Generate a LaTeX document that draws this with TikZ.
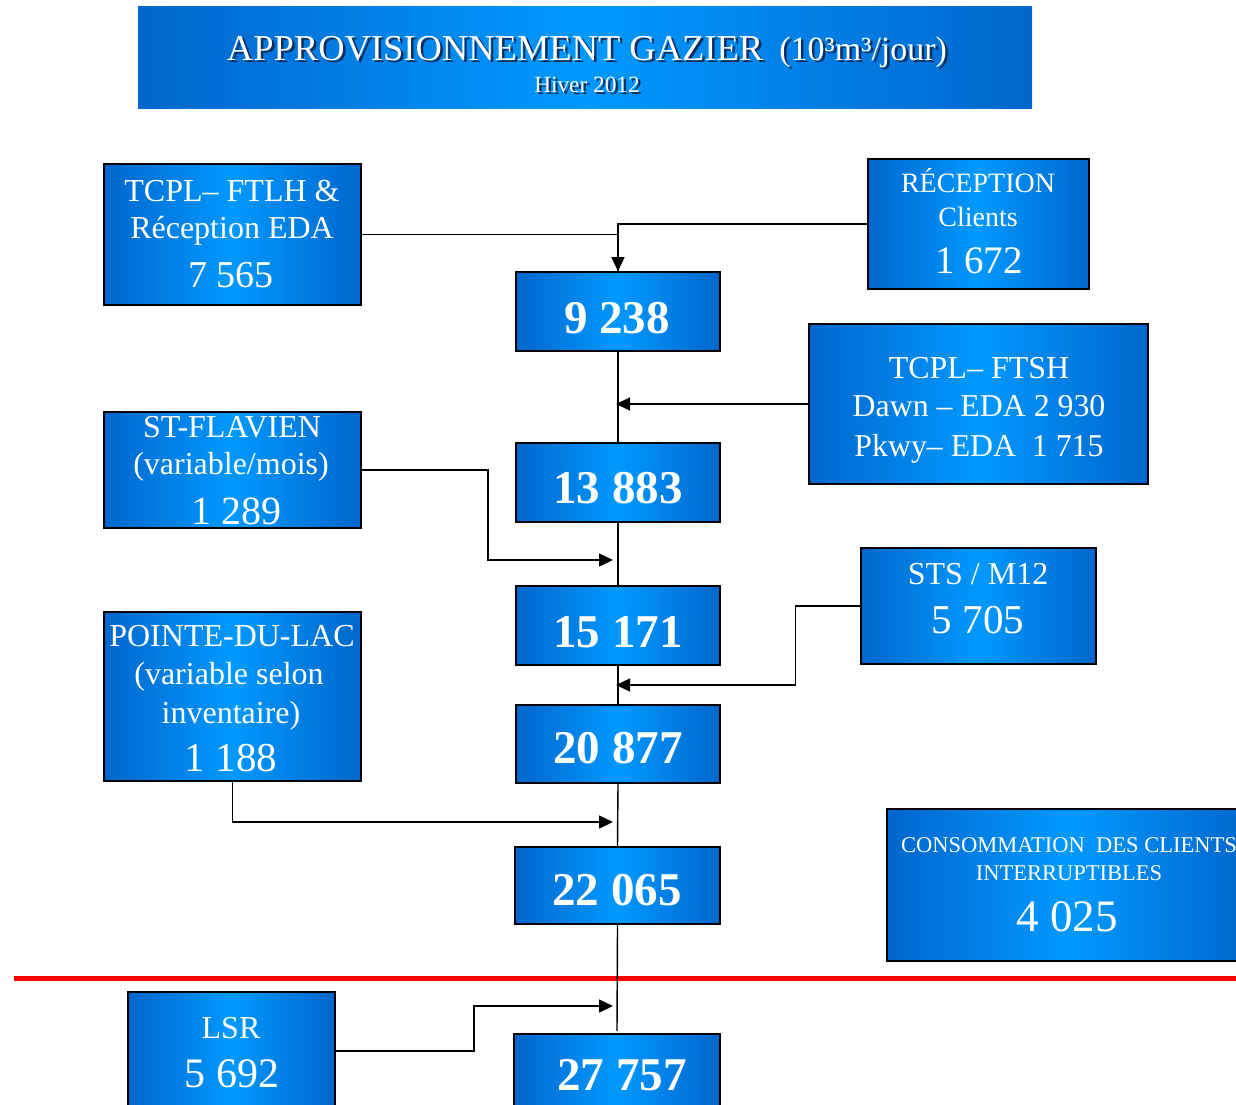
\documentclass[tikz,border=0pt]{standalone}
\usepackage{fontspec}
\setmainfont{Liberation Serif}
\usetikzlibrary{arrows.meta}
\definecolor{bdark}{RGB}{0,102,204}
\definecolor{blight}{RGB}{0,153,255}
\definecolor{redline}{RGB}{255,0,0}
\definecolor{tshadow}{RGB}{15,45,95}
\newcommand\fsz[1]{\fontsize{#1}{#1}\selectfont}
\newcommand\shadtxt[1]{\rlap{\hspace{2.5pt}\raisebox{-2.5pt}{\color{tshadow}#1}}#1}
\begin{document}
\begin{tikzpicture}[x=1pt,y=-1pt,
  gradfill/.style={left color=bdark, right color=bdark, middle color=blight},
  box/.style={gradfill, draw=black, line width=1.6pt, inner sep=0pt},
  tx/.style={anchor=base, inner sep=0pt, text=white},
  tot/.style={tx, font=\fsz{47}\bfseries},
  conn/.style={draw=black, line width=1.4pt},
  arr/.style={conn, -{Triangle[length=14pt,width=13pt]}}]
\useasboundingbox (0,0) rectangle (1236,1104);
\clip (0,0) rectangle (1236,1104);

% title
\node[gradfill, draw=none, minimum width=894pt, minimum height=102pt, inner sep=0pt] (title) at (585,57) {};
\node[tx] (titletext) at (587,60) {\shadtxt{{\fsz{36.5}APPROVISIONNEMENT GAZIER}\hspace{16pt}{\fsz{34}(10³m³/jour)}}};
\node[tx] (subtext) at (587,92) {\fsz{23.3}\shadtxt{Hiver 2012}};

% red separator
\draw[redline, line width=5pt] (14,978) -- (1236,978);

% boxes
\node[box, minimum width=257pt, minimum height=141pt] (ftlh) at (232.5,234.5) {};
\node[box, minimum width=221pt, minimum height=130pt] (rec) at (978.5,224) {};
\node[box, minimum width=204pt, minimum height=79pt] (t1) at (618,311.5) {};
\node[box, minimum width=339pt, minimum height=160pt] (ftsh) at (978.5,404) {};
\node[box, minimum width=257pt, minimum height=116pt] (stf) at (232.5,470) {};
\node[box, minimum width=204pt, minimum height=79pt] (t2) at (618,482.5) {};
\node[box, minimum width=204pt, minimum height=79pt] (t3) at (618,625.5) {};
\node[box, minimum width=235pt, minimum height=116pt] (sts) at (978.5,606) {};
\node[box, minimum width=257pt, minimum height=169pt] (pdl) at (232.5,696.5) {};
\node[box, minimum width=204pt, minimum height=78pt] (t4) at (618,744) {};
\node[box, minimum width=205pt, minimum height=77pt] (t5) at (617.5,885.5) {};
\node[box, minimum width=363pt, minimum height=152pt] (cons) at (1068.5,885) {};
\node[box, minimum width=207pt, minimum height=118pt] (lsr) at (231.5,1051) {};
\node[box, minimum width=206pt, minimum height=78pt] (t6) at (617,1073) {};

% box texts
\node[tx, font=\fsz{32}] (ftlh1) at (232,201) {TCPL– FTLH \&};
\node[tx, font=\fsz{32}] (ftlh2) at (232,238) {Réception EDA};
\node[tx, font=\fsz{38}] (ftlh3) at (231,287) {7 565};

\node[tx, font=\fsz{28}] (rec1) at (978,192) {RÉCEPTION};
\node[tx, font=\fsz{28}] (rec2) at (978,226) {Clients};
\node[tx, font=\fsz{39}] (rec3) at (979,273) {1 672};

\node[tx, font=\fsz{32}] (ftsh1) at (979,378) {TCPL– FTSH};
\node[tx, font=\fsz{31.8}] (ftsh2) at (979,416) {Dawn – EDA 2 930};
\node[tx, font=\fsz{31.8}] (ftsh3) at (979,456) {Pkwy– EDA~~1 715};

\node[tx, font=\fsz{32}] (stf1) at (232,437) {ST-FLAVIEN};
\node[tx, font=\fsz{32}] (stf2) at (231,474) {(variable/mois)};
\node[tx, font=\fsz{40}] (stf3) at (236,524) {1 289};

\node[tx, font=\fsz{32}] (pdl1) at (232,646) {POINTE-DU-LAC};
\node[tx, font=\fsz{32}] (pdl2) at (229,684) {(variable selon};
\node[tx, font=\fsz{32}] (pdl3) at (231,723) {inventaire)};
\node[tx, font=\fsz{41}] (pdl4) at (231,771) {1 188};

\node[tx, font=\fsz{32}] (sts1) at (978,584) {STS / M12};
\node[tx, font=\fsz{41}] (sts2) at (978,633) {5 705};

\node[tx, font=\fsz{22.5}] (cons1) at (1069,852) {CONSOMMATION~~DES CLIENTS};
\node[tx, font=\fsz{22.5}] (cons2) at (1069,880) {INTERRUPTIBLES};
\node[tx, font=\fsz{45}] (cons3) at (1067,931) {4 025};

\node[tx, font=\fsz{32}] (lsr1) at (231,1038) {LSR};
\node[tx, font=\fsz{42}] (lsr2) at (232,1087) {5 692};

\node[tot] (t1t) at (617,333) {9 238};
\node[tot] (t2t) at (618,503) {13 883};
\node[tot] (t3t) at (618,647) {15 171};
\node[tot] (t4t) at (618,763) {20 877};
\node[tot] (t5t) at (617,905) {22 065};
\node[tot] (t6t) at (622,1090) {27 757};

% junction points on the trunk
\coordinate (j1) at (616,404);
\coordinate (j2) at (613,560);
\coordinate (j3) at (616,685);
\coordinate (j4) at (613,822);
\coordinate (j5) at (613,1006);
\coordinate (endc) at (617,1031);

% trunk
\draw[conn] (t1.south) -- (t2.north);
\draw[conn] (t2.south) -- (t3.north);
\draw[conn] (t3.south) -- (t4.north);
\draw[conn] (t4.south) -- (t5.north);
\draw[conn] (t5.south) -- (endc);

% feeders
\draw[conn] (rec.west) -| (t1.north);
\draw[arr] (ftlh.east) -| (t1.north);
\draw[arr] (ftsh.west) -- (j1);
\draw[arr] (stf.east) -- ++(126,0) |- (j2);
\draw[arr] (sts.west) -- ++(-65,0) |- (j3);
\draw[arr] (pdl.south) |- (j4);
\draw[arr] (lsr.east) -- ++(138,0) |- (j5);
\end{tikzpicture}
\end{document}
